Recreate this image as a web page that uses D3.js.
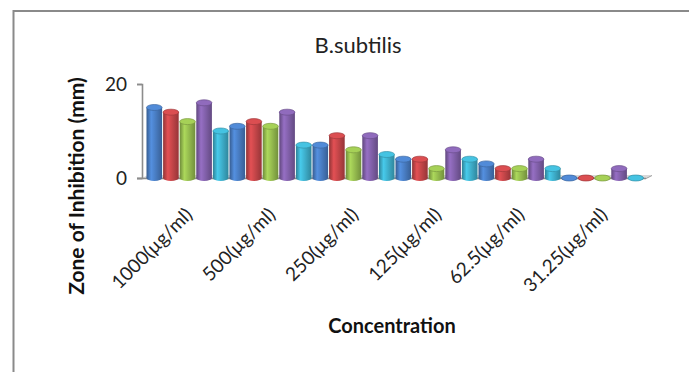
<!DOCTYPE html>
<html>
<head>
<meta charset="utf-8">
<script src="https://cdn.jsdelivr.net/npm/d3@7"></script>
<style>
  html, body { margin: 0; padding: 0; background: #fff; }
  svg { display: block; font-family: Lato, "Open Sans", sans-serif; }
</style>
</head>
<body>
<svg id="chart" width="689" height="372"></svg>
<script>
// Concentration groups on the x axis
const categories = ["1000(\u00b5g/ml)", "500(\u00b5g/ml)", "250(\u00b5g/ml)", "125(\u00b5g/ml)", "62.5(\u00b5g/ml)", "31.25(\u00b5g/ml)"];
// Five extract series, zone of inhibition in mm per concentration
const seriesA = [15, 11, 7, 4, 3, 0];
const seriesB = [14, 12, 9, 4, 2, 0];
const seriesC = [12, 11, 6, 2, 2, 0];
const seriesD = [16, 14, 9, 6, 4, 2];
const seriesE = [10, 7, 5, 4, 2, 0];
const seriesList = [seriesA, seriesB, seriesC, seriesD, seriesE];
const seriesColors = ["#4a7fc6", "#c8474a", "#98bf50", "#8462ad", "#3fb2cf"];
const yTicks = [0, 20];

const svg = d3.select("#chart");
const defs = svg.append("defs");

// Cylinder shading: dark rims, bright band left of centre
seriesColors.forEach((c, i) => {
  const base = d3.color(c);
  const g = defs.append("linearGradient").attr("id", "cyl" + i)
    .attr("x1", "0%").attr("x2", "100%").attr("y1", "0%").attr("y2", "0%");
  g.append("stop").attr("offset", "0%").attr("stop-color", base.darker(0.9));
  g.append("stop").attr("offset", "30%").attr("stop-color", base.brighter(0.35));
  g.append("stop").attr("offset", "55%").attr("stop-color", base);
  g.append("stop").attr("offset", "100%").attr("stop-color", base.darker(0.8));
});

// Outer frame (top and left edges visible)
svg.append("line").attr("x1", 13.5).attr("x2", 689).attr("y1", 11).attr("y2", 11)
  .attr("stroke", "#8a8a8a").attr("stroke-width", 2);
svg.append("line").attr("x1", 13.5).attr("x2", 13.5).attr("y1", 10).attr("y2", 372)
  .attr("stroke", "#8a8a8a").attr("stroke-width", 2);

const x0 = d3.scaleBand().domain(categories).range([146, 644]).padding(0);
const x1 = d3.scaleBand().domain(d3.range(seriesList.length)).range([0, x0.bandwidth()]).paddingInner(0.06).paddingOuter(0.03);
const y = d3.scaleLinear().domain([0, 20]).range([178, 84]);

// Floor of the 3D plot
const floorL = 142, floorR = x0.range()[1] + 2, depth = 6;
svg.append("path")
  .attr("d", `M${floorL},${y(0)} L${floorR},${y(0)} L${floorR + depth},${y(0) - 3} L${floorL + depth},${y(0) - 3} Z`)
  .attr("fill", "#d9d9d9").attr("stroke", "none");
svg.append("line").attr("x1", 137).attr("x2", floorR).attr("y1", y(0) + 0.5).attr("y2", y(0) + 0.5)
  .attr("stroke", "#8c8c8c").attr("stroke-width", 1.6);
svg.append("line").attr("x1", floorR).attr("x2", floorR + depth).attr("y1", y(0) + 0.5).attr("y2", y(0) - 2.5)
  .attr("stroke", "#9a9a9a").attr("stroke-width", 1);

// Value axis
const yAxis = svg.append("g").attr("transform", "translate(142,0)")
  .call(d3.axisLeft(y).tickValues(yTicks).tickSize(5).tickPadding(10).tickFormat(d3.format("d")));
yAxis.select(".domain").attr("stroke", "#8c8c8c").attr("stroke-width", 1.6);
yAxis.selectAll(".tick line").attr("stroke", "#8c8c8c").attr("stroke-width", 1.6);
yAxis.selectAll(".tick text").attr("font-size", 19).attr("fill", "#222").attr("font-family", "Lato, sans-serif");

// Cylinders
const rows = [];
categories.forEach((cat, ci) => {
  seriesList.forEach((s, si) => rows.push({ cat, si, v: s[ci] }));
});
const bw = x1.bandwidth();
const ry = 3;
const bars = svg.append("g").selectAll("g").data(rows).join("g")
  .attr("transform", d => `translate(${x0(d.cat) + x1(d.si)},0)`);
bars.append("ellipse")
  .attr("cx", bw / 2).attr("cy", y(0)).attr("rx", bw / 2).attr("ry", ry)
  .attr("fill", d => `url(#cyl${d.si})`);
bars.append("rect")
  .attr("x", 0).attr("width", bw)
  .attr("y", d => y(d.v)).attr("height", d => y(0) - y(d.v))
  .attr("fill", d => `url(#cyl${d.si})`);
bars.append("ellipse")
  .attr("cx", bw / 2).attr("cy", d => y(d.v)).attr("rx", bw / 2).attr("ry", ry)
  .attr("fill", d => d3.color(seriesColors[d.si]).brighter(0.25))
  .attr("stroke", d => d3.color(seriesColors[d.si]).darker(0.6)).attr("stroke-width", 0.7);

// Category labels, rotated
svg.append("g").selectAll("text").data(categories).join("text")
  .attr("transform", d => `translate(${x0(d) + x0.bandwidth() / 2 + 6},${y(0) + 38}) rotate(-45)`)
  .attr("text-anchor", "end")
  .attr("font-size", 19).attr("fill", "#222")
  .text(d => d);

// Titles
svg.append("text").attr("x", 358).attr("y", 53).attr("text-anchor", "middle")
  .attr("font-size", 22).attr("fill", "#222").text("B.subtilis");
svg.append("text").attr("x", 392).attr("y", 333).attr("text-anchor", "middle")
  .attr("font-size", 20).attr("font-weight", "bold").attr("fill", "#111").text("Concentration");
svg.append("text").attr("transform", "translate(84,186) rotate(-90)").attr("text-anchor", "middle")
  .attr("font-size", 21).attr("font-weight", "bold").attr("fill", "#111").text("Zone of Inhibition (mm)");
</script>
</body>
</html>
